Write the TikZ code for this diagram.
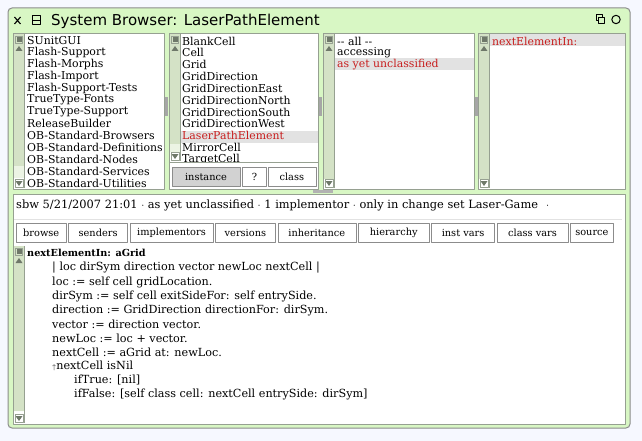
\documentclass[tikz,border=0pt]{standalone}
\usepackage{fontspec}
\setmainfont{DejaVu Serif}
\newfontfamily\titlefont{DejaVu Sans}
\usetikzlibrary{positioning}
\definecolor{bgcol}{RGB}{246,248,255}
\definecolor{framegreen}{RGB}{216,247,196}
\definecolor{frameline}{RGB}{140,140,140}
\definecolor{paneborder}{RGB}{150,160,145}
\definecolor{sbtrack}{RGB}{212,226,198}
\definecolor{sbpale}{RGB}{236,244,228}
\definecolor{sbarrow}{RGB}{110,120,105}
\definecolor{selgray}{RGB}{226,226,226}
\definecolor{selred}{RGB}{200,30,30}
\definecolor{btngray}{RGB}{210,210,210}
\def\rowh{11.83}
\def\listtop{41}
\def\codetop{268}
\def\codeh{14}
\tikzset{
	listitem/.style = {anchor=west, inner sep=0pt, font=\fontsize{10.9}{12}\selectfont},
	codeline/.style = {anchor=west, inner sep=0pt, font=\fontsize{11.2}{12}\selectfont},
	btn/.style = {draw=frameline, fill=white, inner sep=0pt, minimum height=19pt, font=\fontsize{9.8}{12}\selectfont},
	pane/.style = {draw=paneborder, fill=white, line width=0.8pt},
	sbar/.style = {draw=paneborder, fill=sbtrack, line width=0.6pt},
}

\begin{document}
\begin{tikzpicture}[x=1pt, y=-1pt, line join=round]
	% Background
	\fill[bgcol] (0,0) rectangle (642,441);
	\useasboundingbox (0,0) rectangle (642,441);
	
	% Window
	\filldraw[fill=framegreen, draw=frameline, line width=1pt, rounded corners=4pt] (8,8) rectangle (630,428);
	
	% Title bar
	\draw[line width=1.1pt] (14.5,17) -- (20.5,24) (14.5,24) -- (20.5,17); % close
	\draw[line width=1pt] (32,16) rectangle (40,25);
	\draw[line width=1pt] (32,20.5) -- (40,20.5); % menu
	\node[anchor=base west, inner sep=0pt, font=\titlefont\fontsize{15}{16}\selectfont] (title) at (51,26) {System Browser: LaserPathElement};
	\draw[line width=1pt] (596,15) rectangle (602,21);
	\draw[line width=1pt, fill=framegreen] (598,17.5) rectangle (604,23.5); % collapse
	\draw[line width=1pt] (616,19.5) circle (4.2); % expand
	
	% Panes
	\draw[pane] (13,33) rectangle (164,189) coordinate (p1);
	\draw[pane] (169,33) rectangle (318,189) coordinate (p2);
	\draw[paneborder, line width=0.8pt] (169,162) -- (318,162);
	\draw[pane] (323,33) rectangle (474,189) coordinate (p3);
	\draw[pane] (478,33) rectangle (625,189) coordinate (p4);
	\draw[pane] (13,194) rectangle (625,424) coordinate (p5);
	\draw[selgray, line width=1pt] (14,219) -- (622,219);
	
	% Splitters
	\foreach \sx in {164.5,318.5,474.2} {
		\fill[gray!70] (\sx+0.8,97) rectangle (\sx+3.5,116);
	}
	\fill[gray!60] (313,189.6) rectangle (333,193.4);
	
	% Scroll bars: x, top, thumb end, pale end, bottom
	\foreach \sx/\st/\sth/\spl/\sb in {14/34/166/178/188, 170/34/144/152/161, 324/34/179/179/188, 479/34/179/179/188, 14/246/411/411/423} {
		\fill[sbtrack] (\sx,\st) rectangle (\sx+10,\sth);
		\fill[sbpale] (\sx,\sth) rectangle (\sx+10,\spl);
		\draw[paneborder, line width=0.6pt] (\sx+10,\st) -- (\sx+10,\sb);
		% menu square
		\fill[sbarrow] (\sx+2.5,\st+3) rectangle (\sx+7.5,\st+8);
		\draw[paneborder, line width=0.5pt] (\sx+1.5,\st+2) rectangle (\sx+8.5,\st+9);
		% arrows
		\fill[sbarrow] (\sx+5,\st+12) -- (\sx+8.5,\st+17) -- (\sx+1.5,\st+17) -- cycle;
		\fill[sbarrow] (\sx+5,\sb-2) -- (\sx+8.5,\sb-7) -- (\sx+1.5,\sb-7) -- cycle;
		\draw[paneborder, line width=0.5pt] (\sx+1,\sb-9) rectangle (\sx+9,\sb-0.5);
	}
	
	% Selections
	\fill[selgray] (181,131) rectangle (317.5,142.5);
	\fill[selgray] (335,58) rectangle (473.5,70);
	\fill[selgray] (490,34) rectangle (624.5,46);
	
	% Package list
	\foreach \item [count=\i] in {SUnitGUI, Flash-Support, Flash-Morphs, Flash-Import, Flash-Support-Tests, TrueType-Fonts, TrueType-Support, ReleaseBuilder, OB-Standard-Browsers, OB-Standard-Definitions, OB-Standard-Nodes, OB-Standard-Services, OB-Standard-Utilities} {
		\node[listitem] (pkg\i) at (27,\listtop+\rowh*\i-\rowh) {\item};
	}
	
	% Class list
	\begin{scope}
		\clip (170,34) rectangle (317,161.5);
		\foreach \item [count=\i] in {BlankCell, Cell, Grid, GridDirection, GridDirectionEast, GridDirectionNorth, GridDirectionSouth, GridDirectionWest} {
			\node[listitem] (cls\i) at (182,\listtop+\rowh*\i-\rowh) {\item};
		}
		\node[listitem, text=selred] (cls9) at (182,\listtop+\rowh*8) {LaserPathElement};
		\node[listitem] (cls10) at (182,\listtop+\rowh*9) {MirrorCell};
		\node[listitem] (cls11) at (182,\listtop+\rowh*10) {TargetCell};
	\end{scope}
	
	% Instance / class switch
	\node[btn, fill=btngray, minimum width=68pt] (inst) at (206,176.5) {instance};
	\node[btn, minimum width=24pt, right=2pt of inst] (help) {?};
	\node[btn, minimum width=48pt, right=1pt of help] (classbtn) {class};
	
	% Categories
	\node[listitem] (cat1) at (337,\listtop) {-{}- all -{}-};
	\node[listitem] (cat2) at (337,\listtop+\rowh) {accessing};
	\node[listitem, text=selred] (cat3) at (337,\listtop+2*\rowh) {as yet unclassified};
	
	% Methods
	\node[listitem, text=selred] (meth1) at (492,\listtop) {nextElementIn:};
	
	% Info line
	\node[codeline, font=\fontsize{11.4}{12}\selectfont] (info) at (16,205) {sbw 5/21/2007 21:01 $\cdot$ as yet unclassified $\cdot$ 1 implementor $\cdot$ only in change set Laser-Game\hspace{8pt}$\cdot$};
	
	% Buttons
	\coordinate (b0) at (14,232.5);
	\foreach \lbl/\w [count=\i] in {browse/50, senders/59, implementors/83, versions/60, inheritance/78, hierarchy/71, inst vars/63, class vars/71, source/43} {
		\pgfmathsetmacro{\iprev}{int(\i-1)}
		\node[btn, minimum width=\w pt, right=2pt of b\iprev] (b\i) {\lbl};
	}
	
	% Source code
	\node[codeline, font=\fontsize{9.7}{12}\selectfont\bfseries] (sel) at (27,253) {nextElementIn: aGrid};
	\foreach \line [count=\i] in {{| loc dirSym direction vector newLoc nextCell |}, {loc := self cell gridLocation.}, {dirSym := self cell exitSideFor: self entrySide.}, {direction := GridDirection directionFor: dirSym.}, {vector := direction vector.}, {newLoc := loc + vector.}, {nextCell := aGrid at: newLoc.}, {{\scriptsize$\uparrow$}nextCell isNil}} {
		\node[codeline] (src\i) at (52,\codetop+\codeh*\i-\codeh) {\line};
	}
	\node[codeline] (src9) at (74,\codetop+8*\codeh) {ifTrue: [nil]};
	\node[codeline] (src10) at (74,\codetop+9*\codeh) {ifFalse: [self class cell: nextCell entrySide: dirSym]};
\end{tikzpicture}
\end{document}
